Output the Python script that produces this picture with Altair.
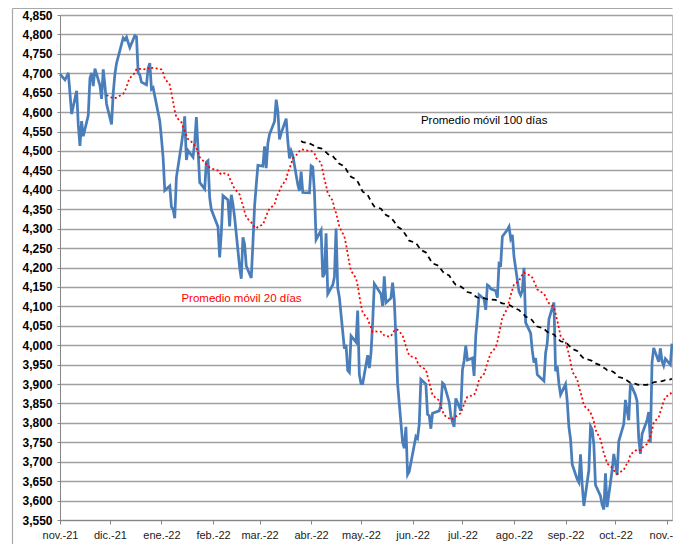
import json
import altair as alt
import pandas as pd

# Daily closes, grouped by calendar month of the trading day
nov21 = [4698, 4683, 4691, 4701, 4595, 4655, 4567]
dic21 = [4513, 4577, 4538, 4592, 4687, 4701, 4667, 4712, 4669, 4634, 4710, 4669, 4621,
         4568, 4649, 4697, 4726, 4791, 4786, 4793, 4779, 4766]
ene22 = [4797, 4794, 4701, 4696, 4677, 4670, 4713, 4726, 4659, 4663, 4577, 4533, 4483,
         4398, 4410, 4356, 4350, 4327, 4432, 4516]
feb22 = [4547, 4589, 4477, 4501, 4484, 4522, 4587, 4504, 4419, 4402, 4471, 4475, 4380,
         4349, 4305, 4226, 4289, 4385, 4374]
mar22 = [4306, 4387, 4363, 4329, 4201, 4171, 4278, 4260, 4204, 4173, 4262, 4358, 4412,
         4463, 4461, 4512, 4456, 4520, 4543, 4576, 4632, 4602, 4530]
abr22 = [4546, 4583, 4525, 4481, 4500, 4488, 4413, 4397, 4447, 4393, 4392, 4462, 4459,
         4394, 4272, 4296, 4175, 4184, 4288, 4132]
may22 = [4155, 4175, 4300, 4147, 4123, 3991, 4001, 3935, 3930, 4024, 4008, 4089, 3924,
         3901, 3901, 3974, 3941, 3979, 4058, 4158, 4132]
jun22 = [4101, 4177, 4109, 4121, 4161, 4116, 4018, 3901, 3750, 3735, 3790, 3667, 3675,
         3765, 3760, 3796, 3912, 3900, 3822, 3819, 3785]
jul22 = [3825, 3831, 3845, 3903, 3899, 3854, 3819, 3802, 3790, 3863, 3831, 3937, 3960,
         3999, 3962, 3967, 3921, 4024, 4072, 4130]
ago22 = [4119, 4091, 4155, 4152, 4145, 4140, 4122, 4210, 4207, 4280, 4297, 4305, 4274,
         4284, 4228, 4138, 4129, 4141, 4199, 4058, 4031, 3986, 3955]
sep22 = [3967, 3924, 3908, 3980, 4006, 4067, 4110, 3933, 3946, 3901, 3873, 3900, 3856,
         3790, 3758, 3693, 3655, 3647, 3719, 3640, 3586]
oct22 = [3678, 3791, 3783, 3745, 3640, 3612, 3589, 3577, 3670, 3583, 3678, 3720, 3695,
         3666, 3753, 3797, 3859, 3831, 3807, 3901, 3872]
nov22 = [3856, 3760, 3720, 3771, 3807, 3828, 3749, 3956, 3993, 3957, 3992, 3959, 3947,
         3965, 3950, 4004]

closes = (nov21 + dic21 + ene22 + feb22 + mar22 + abr22 + may22 + jun22 + jul22 +
          ago22 + sep22 + oct22 + nov22)

holidays = ["2021-11-25", "2021-12-24", "2022-01-17", "2022-02-21", "2022-04-15",
            "2022-05-30", "2022-06-20", "2022-07-04", "2022-09-05"]
months_es = ["ene.", "feb.", "mar.", "abr.", "may.", "jun.", "jul.", "ago.",
             "sep.", "oct.", "nov.", "dic."]

ann_text = ["Promedio móvil 100 días", "Promedio móvil 20 días"]
ann_date = ["2022-06-06", "2022-01-13"]
ann_value = [4577, 4119]
ann_color = ["#000000", "#FF0000"]

# trading days; the chart's date axis places the series 18 days earlier
trading_days = pd.bdate_range("2021-11-19", "2022-11-22", freq="C", holidays=holidays)
offset = pd.Timedelta(days=18)
dates = [(d - offset).strftime("%Y-%m-%d") for d in trading_days]
n = min(len(dates), len(closes))
df = pd.DataFrame({"date": dates[:n], "close": closes[:n]})

tick_months = [(2021, 11), (2021, 12)] + [(2022, m) for m in range(1, 12)]
tick_values = [alt.DateTime(year=y, month=m, date=1, utc=True) for y, m in tick_months]
x_domain = [alt.DateTime(year=2021, month=11, date=1, utc=True),
            alt.DateTime(year=2022, month=11, date=4, utc=True)]

label_expr = (json.dumps(months_es) +
              "[utcmonth(datum.value)] + '-' + utcFormat(datum.value, '%y')")

FONT = "Liberation Sans"

x_axis = alt.Axis(values=tick_values, labelExpr=label_expr, grid=False, title=None,
                  tickSize=4, tickColor="#868686", domainColor="#868686",
                  labelFontSize=11, labelColor="#222222", labelPadding=5,
                  labelFlush=False, labelOverlap=False, labelFont=FONT)
y_axis = alt.Axis(values=list(range(3550, 4851, 50)), format=",.0f", title=None,
                  labelFontWeight="bold", labelFontSize=12, labelColor="#000000",
                  labelFont=FONT, tickSize=3, tickColor="#868686",
                  domainColor="#868686", gridColor="#a0a0a0", gridWidth=1.5,
                  labelPadding=5)


def xenc(field):
    return alt.X(f"{field}:T", scale=alt.Scale(type="utc", domain=x_domain), axis=x_axis)


def yenc(field):
    return alt.Y(f"{field}:Q", scale=alt.Scale(domain=[3550, 4850], nice=False, zero=False),
                 axis=y_axis)


base = alt.Chart(df)

price = base.mark_line(color="#4A7EBB", strokeWidth=2.75).encode(
    x=xenc("date"), y=yenc("close"))

ma20 = base.transform_window(
    idx="row_number()", sort=[alt.SortField("date")]
).transform_window(
    ma="mean(close)", frame=[-19, 0], sort=[alt.SortField("date")]
).transform_filter("datum.idx >= 20").mark_line(
    color="#FF0000", strokeWidth=1.75, strokeDash=[2, 2.5]
).encode(x=xenc("date"), y=yenc("ma"))

ma100 = base.transform_window(
    idx="row_number()", sort=[alt.SortField("date")]
).transform_window(
    ma="mean(close)", frame=[-99, 0], sort=[alt.SortField("date")]
).transform_filter("datum.idx >= 100").mark_line(
    color="#000000", strokeWidth=1.75, strokeDash=[5, 4]
).encode(x=xenc("date"), y=yenc("ma"))

ann_df = pd.DataFrame({"tdate": ann_date, "tval": ann_value, "label": ann_text,
                       "col": ann_color})
labels = alt.Chart(ann_df).mark_text(
    align="left", baseline="middle", font=FONT, fontSize=11.5
).encode(x=xenc("tdate"), y=yenc("tval"), text="label:N",
         color=alt.Color("col:N", scale=None))

# outer chart-area frame (left and top edges; right edge is the plot frame)
frame_src = pd.DataFrame({"k": [0]})
frame_left = alt.Chart(frame_src).mark_rule(color="#a8a8a8", strokeWidth=1.2).encode(
    x=alt.value(-47.5), y=alt.value(-6.5), y2=alt.value(600))
frame_top = alt.Chart(frame_src).mark_rule(color="#a8a8a8", strokeWidth=1.2).encode(
    x=alt.value(-47.5), x2=alt.value(612.5), y=alt.value(-6.5))

chart = alt.layer(frame_left, frame_top, price, ma20, ma100, labels).properties(
    width=612, height=505,
    autosize=alt.AutoSizeParams(type="none"),
    padding={"left": 52, "top": 7, "right": 1, "bottom": 24},
    background="#ffffff",
).configure_view(stroke="#bfbfbf", strokeWidth=1)

chart.save("out.html", embed_options={"renderer": "svg", "actions": False})
